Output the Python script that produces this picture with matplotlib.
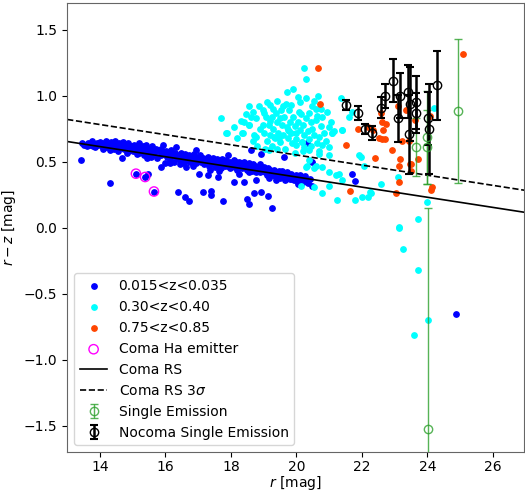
import matplotlib
matplotlib.use('Agg')
import matplotlib.pyplot as plt
import numpy as np

# Data
# -------------------------------------------------------------------------------------------
# Coma cluster members 0.015<z<0.035 (r, r-z)
coma_r = [13.46, 13.52, 13.6, 13.65, 13.7, 13.76, 13.8, 13.85, 13.9, 13.95, 13.42,
          14.0, 14.05, 14.1, 14.12, 14.18, 14.2, 14.25, 14.3, 14.33, 14.38, 14.42, 14.45, 14.5,
          14.55, 14.58, 14.62, 14.66, 14.7, 14.74, 14.78, 14.82, 14.86, 14.9, 14.95, 14.31,
          15.0, 15.03, 15.07, 15.1, 15.14, 15.18, 15.22, 15.25, 15.3, 15.34, 15.38, 15.42, 15.46,
          15.5, 15.55, 15.58, 15.62, 15.66, 15.7, 15.75, 15.8, 15.85, 15.88, 15.93, 15.96,
          15.1, 15.38, 15.65, 15.48, 15.85, 15.99,
          16.02, 16.06, 16.1, 16.14, 16.18, 16.22, 16.26, 16.3, 16.33, 16.36, 16.4, 16.44, 16.48,
          16.52, 16.56, 16.6, 16.64, 16.68, 16.72, 16.76, 16.8, 16.84, 16.88, 16.92, 16.94, 16.97,
          16.38, 16.59, 16.72,
          17.02, 17.04, 17.06, 17.1, 17.14, 17.14, 17.18, 17.22, 17.26, 17.3, 17.3, 17.34, 17.38,
          17.4, 17.4, 17.42, 17.46, 17.5, 17.54, 17.58, 17.6, 17.62, 17.66, 17.7, 17.74, 17.75,
          17.78, 17.82, 17.86, 17.9, 17.92, 17.96, 17.98,
          18.02, 18.05, 18.08, 18.1, 18.12, 18.15, 18.18, 18.2, 18.24, 18.27, 18.3, 18.33, 18.36,
          18.4, 18.41, 18.44, 18.48, 18.48, 18.5, 18.53, 18.56, 18.56, 18.58, 18.61, 18.62, 18.65,
          18.68, 18.69, 18.72, 18.75, 18.77, 18.78, 18.82, 18.85, 18.88, 18.9, 18.92, 18.92, 18.95,
          18.98,
          19.02, 19.05, 19.08, 19.1, 19.12, 19.14, 19.17, 19.2, 19.23, 19.24, 19.26, 19.3, 19.33,
          19.36, 19.37, 19.4, 19.43, 19.46, 19.5, 19.53, 19.56, 19.6, 19.63, 19.64, 19.68, 19.72,
          19.76, 19.8, 19.84, 19.88, 19.9, 19.94, 19.98,
          20.02, 20.06, 20.1, 20.14, 20.2, 20.25, 20.29, 20.33, 20.35, 20.42, 20.49, 20.49,
          21.7, 21.8, 24.87,
          17.5, 17.7, 17.9, 18.0, 18.2, 18.35, 18.45, 18.6, 18.7, 18.8, 18.9, 19.0, 19.1, 19.2,
          19.3, 19.45, 19.55, 19.7, 19.85, 19.95, 16.5, 16.7, 16.9, 17.2, 15.2, 15.6, 14.6, 14.2,
          16.15, 16.45, 16.85, 17.35, 17.65, 18.25, 18.55, 19.15, 19.65, 20.05, 15.45, 14.85]
coma_rz = [0.64, 0.63, 0.62, 0.64, 0.63, 0.66, 0.62, 0.61, 0.64, 0.63, 0.51,
           0.65, 0.62, 0.6, 0.64, 0.66, 0.61, 0.63, 0.59, 0.65, 0.62, 0.6, 0.66, 0.63,
           0.58, 0.64, 0.61, 0.53, 0.65, 0.6, 0.62, 0.57, 0.64, 0.6, 0.62, 0.34,
           0.58, 0.63, 0.6, 0.62, 0.56, 0.64, 0.6, 0.58, 0.62, 0.55, 0.6, 0.63, 0.57,
           0.6, 0.54, 0.62, 0.58, 0.56, 0.6, 0.53, 0.58, 0.55, 0.6, 0.63, 0.56,
           0.41, 0.385, 0.275, 0.41, 0.46, 0.49,
           0.58, 0.54, 0.56, 0.52, 0.59, 0.55, 0.5, 0.57, 0.61, 0.53, 0.55, 0.51, 0.57,
           0.54, 0.49, 0.56, 0.46, 0.53, 0.55, 0.5, 0.54, 0.52, 0.56, 0.49, 0.59, 0.53,
           0.27, 0.23, 0.2,
           0.51, 0.41, 0.55, 0.5, 0.53, 0.27, 0.48, 0.52, 0.5, 0.4, 0.54, 0.47, 0.51,
           0.28, 0.25, 0.49, 0.53, 0.46, 0.5, 0.52, 0.385, 0.48, 0.5, 0.45, 0.52, 0.2,
           0.49, 0.47, 0.51, 0.55, 0.48, 0.5, 0.45,
           0.49, 0.47, 0.51, 0.35, 0.46, 0.5, 0.48, 0.44, 0.5, 0.47, 0.49, 0.45, 0.48,
           0.5, 0.35, 0.46, 0.48, 0.22, 0.44, 0.47, 0.49, 0.18, 0.45, 0.59, 0.47, 0.43,
           0.48, 0.26, 0.45, 0.47, 0.36, 0.42, 0.46, 0.44, 0.48, 0.42, 0.56, 0.27, 0.45,
           0.43,
           0.46, 0.42, 0.44, 0.4, 0.24, 0.45, 0.42, 0.44, 0.4, 0.15, 0.43, 0.41, 0.44,
           0.39, 0.365, 0.42, 0.4, 0.43, 0.38, 0.41, 0.43, 0.39, 0.54, 0.41, 0.38, 0.42,
           0.4, 0.37, 0.41, 0.37, 0.39, 0.36, 0.4,
           0.38, 0.35, 0.4, 0.37, 0.35, 0.39, 0.36, 0.64, 0.34, 0.37, 0.32, 0.5,
           0.41, 0.355, -0.65,
           0.5, 0.49, 0.47, 0.46, 0.47, 0.46, 0.45, 0.46, 0.44, 0.45, 0.46, 0.44, 0.43, 0.41,
           0.43, 0.41, 0.4, 0.4, 0.39, 0.38, 0.52, 0.51, 0.52, 0.49, 0.57, 0.6, 0.63, 0.63,
           0.49, 0.48, 0.47, 0.44, 0.43, 0.41, 0.42, 0.38, 0.36, 0.33, 0.53, 0.58]

# 0.30<z<0.40
mid_r = [20.23, 20.29, 19.71, 19.9, 20.05, 20.29, 19.42, 19.68, 18.56, 17.7, 17.87, 18.36,
         18.66, 18.97, 19.07, 19.27, 19.37, 19.53, 19.78, 20.08, 20.49, 20.64, 20.79, 20.99,
         21.15, 18.77, 18.97, 18.54, 18.71,
         19.0, 19.1, 19.15, 19.2, 19.25, 19.3, 19.35, 19.4, 19.45, 19.5, 19.55, 19.6, 19.62,
         19.7, 19.73, 19.75, 19.8, 19.85, 19.88, 19.9, 19.95, 19.98, 20.0, 20.05, 20.1, 20.15,
         20.18, 20.2, 20.23, 20.23, 20.3, 20.35, 20.39, 20.4, 20.45, 20.49, 20.55, 20.59, 20.62,
         20.69, 20.69, 20.75, 20.79, 20.85, 20.99, 21.09, 21.4,
         20.13, 20.54, 20.33, 20.54, 20.39, 20.59, 20.79, 20.29, 20.99, 21.2, 21.4, 20.99,
         20.79, 21.25, 21.8, 22.0, 22.2, 22.26, 21.9, 23.12, 22.57, 23.98, 23.71, 23.14,
         23.27, 23.71, 24.03, 23.6,
         17.85, 18.34, 18.56, 18.77, 18.66, 19.32, 19.47, 19.78, 19.98, 20.18,
         21.35, 21.7, 21.6, 21.4, 21.1, 21.96, 22.06, 21.3, 23.1, 24.19, 22.28,
         19.3, 19.6, 19.85, 20.1, 20.4, 20.6, 19.2, 19.5, 18.9, 18.45, 18.2, 18.8, 19.05,
         20.45, 20.7, 20.9, 21.0, 20.2, 19.95, 19.65, 19.4, 19.15,
         18.4, 18.6, 18.85, 19.0, 19.2, 18.1, 18.3, 20.55, 20.75, 20.95, 21.05, 19.1, 20.65]
mid_rz = [1.21, 1.125, 1.03, 1.05, 0.99, 0.985, 0.96, 0.94, 0.92, 0.83, 0.72, 0.715,
          0.88, 0.89, 0.84, 0.84, 0.87, 0.89, 0.89, 0.88, 0.92, 0.85, 0.84, 0.765,
          0.73, 0.83, 0.78, 0.78, 0.70,
          0.72, 0.66, 0.78, 0.7, 0.62, 0.75, 0.68, 0.8, 0.72, 0.65, 0.78, 0.7, 0.84,
          0.76, 0.74, 0.68, 0.8, 0.72, 0.64, 0.84, 0.77, 0.715, 0.67, 0.8, 0.74, 0.86,
          0.65, 0.78, 0.7, 0.61, 0.83, 0.73, 0.59, 0.67, 0.8, 0.75, 0.7, 0.82, 0.64,
          0.69, 0.56, 0.77, 0.63, 0.72, 0.61, 0.715, 0.74,
          0.32, 0.31, 0.47, 0.45, 0.51, 0.47, 0.46, 0.46, 0.42, 0.4, 0.36, 0.32,
          0.26, 0.21, 0.21, 0.23, 0.23, 0.27, 0.55, 0.005, 0.33, 0.195, 0.064, 0.0,
          -0.16, -0.32, -0.70, -0.815,
          0.72, 0.72, 0.78, 0.69, 0.66, 0.69, 0.68, 0.73, 0.63, 0.65,
          0.98, 0.88, 0.84, 0.74, 0.715, 0.54, 0.467, 0.41, 0.385, 0.91, 0.26,
          0.9, 0.92, 0.93, 0.95, 0.87, 0.9, 0.81, 0.83, 0.75, 0.86, 0.68, 0.62, 0.6,
          0.62, 0.58, 0.66, 0.55, 0.58, 0.57, 0.6, 0.6, 0.59,
          0.8, 0.84, 0.92, 0.87, 0.93, 0.76, 0.81, 0.96, 0.9, 0.88, 0.8, 0.95, 1.0]

# 0.75<z<0.85
high_r = [25.1, 23.09, 23.36, 23.61, 24.07, 22.57, 22.74, 21.89, 22.19, 22.33, 22.64, 22.51,
          22.61, 22.72, 23.22, 21.5, 22.92, 22.41, 23.12, 23.48, 23.71, 23.12, 21.65, 23.05,
          24.13, 24.1, 23.51, 23.43, 20.67, 20.71, 22.6, 23.15, 23.51]
high_rz = [1.32, 0.92, 0.89, 0.82, 0.85, 0.87, 0.79, 0.745, 0.765, 0.74, 0.74, 0.68,
           0.67, 0.67, 0.66, 0.63, 0.59, 0.53, 0.47, 0.48, 0.525, 0.35, 0.28, 0.26,
           0.31, 0.29, 0.43, 0.66, 1.21, 0.935, 0.80, 0.525, 0.487]

# Coma H-alpha emitters
ha_r = [15.1, 15.38, 15.65]
ha_rz = [0.41, 0.385, 0.275]

# Coma red sequence fit
rs_intercept = 1.153
rs_slope = -0.0384
rs_3sigma = 0.167

# Single emission-line objects
single_r = [23.65, 23.98, 23.98, 24.95, 24.01]
single_rz = [0.613, 0.685, 0.613, 0.884, -1.527]
single_err = [0.22, 0.35, 0.28, 0.545, 1.68]

# Non-Coma single emission
nocoma_r = [21.5, 21.89, 22.09, 22.31, 22.57, 22.72, 22.95, 23.15, 23.10, 23.41, 23.48,
            23.43, 23.66, 23.64, 24.01, 24.06, 24.3]
nocoma_rz = [0.93, 0.87, 0.75, 0.72, 0.91, 1.0, 1.115, 1.0, 0.83, 1.03, 0.94,
             0.71, 0.95, 0.87, 0.83, 0.75, 1.08]
nocoma_err = [0.035, 0.05, 0.04, 0.055, 0.08, 0.09, 0.165, 0.17, 0.18, 0.2, 0.28,
              0.3, 0.2, 0.15, 0.2, 0.34, 0.26]

# Plotting
# -------------------------------------------------------------------------------------------
fig = plt.figure(figsize=(5.25, 4.92), dpi=100)
ax = fig.add_axes([0.128, 0.081, 0.870, 0.912])

ax.scatter(coma_r, coma_rz, s=15, color='blue', label='0.015<z<0.035')
ax.scatter(mid_r, mid_rz, s=15, color='cyan', label='0.30<z<0.40')
ax.scatter(high_r, high_rz, s=15, color='orangered', label='0.75<z<0.85')
ax.scatter(ha_r, ha_rz, s=45, facecolors='none', edgecolors='magenta', label='Coma Ha emitter')

rr = np.linspace(13, 27, 50)
ax.plot(rr, rs_intercept + rs_slope * rr, 'k-', lw=1.2, label='Coma RS')
ax.plot(rr, rs_intercept + rs_slope * rr + rs_3sigma, 'k--', lw=1.2, label=r'Coma RS 3$\sigma$')

ax.errorbar(single_r, single_rz, yerr=single_err, fmt='o', color='tab:green', alpha=0.8,
            mfc='none', ms=6, elinewidth=1, capsize=3, label='Single Emission')
ax.errorbar(nocoma_r, nocoma_rz, yerr=nocoma_err, fmt='o', color='k', mfc='none', ms=6,
            elinewidth=1.8, capsize=3, capthick=1.5, label='Nocoma Single Emission')

ax.set_xlim(13, 26.95)
ax.set_ylim(-1.7, 1.7)
ax.set_xticks([14, 16, 18, 20, 22, 24, 26])
ax.set_xlabel('$r$ [mag]', fontsize=10, labelpad=0)
ax.set_ylabel('$r-z$ [mag]', fontsize=10)
ax.tick_params(labelsize=10)
ax.tick_params(axis='x', pad=2)
for s in ax.spines.values():
    s.set_color('0.4')

ax.legend(loc='lower left', fontsize=10)

plt.savefig('out.png', dpi=100)
